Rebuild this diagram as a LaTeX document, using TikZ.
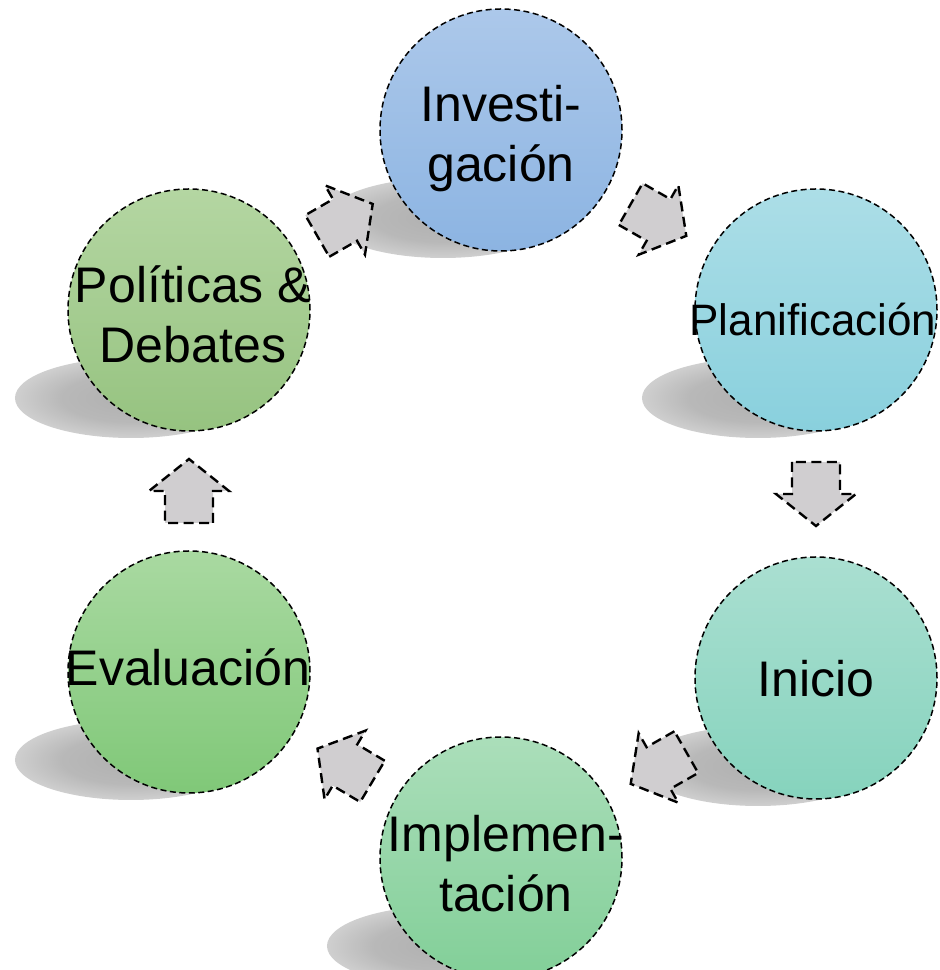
\documentclass[tikz,border=0pt]{standalone}
\usepackage{fontspec}
\setmainfont{Liberation Sans}
\usetikzlibrary{calc,fadings}
\pgfdeclareradialshading{shadowshade}{\pgfpointorigin}{gray(0bp)=(0.95); gray(15bp)=(0.85); gray(35bp)=(0.3); gray(50bp)=(0)}
\pgfdeclarefading{softshadow}{\pgfuseshading{shadowshade}}
\definecolor{invtop}{RGB}{172,200,234}
\definecolor{invbot}{RGB}{140,180,226}
\definecolor{plantop}{RGB}{172,222,231}
\definecolor{planbot}{RGB}{137,208,221}
\definecolor{initop}{RGB}{170,223,209}
\definecolor{inibot}{RGB}{134,211,189}
\definecolor{impltop}{RGB}{171,222,186}
\definecolor{implbot}{RGB}{130,207,152}
\definecolor{evaltop}{RGB}{169,217,161}
\definecolor{evalbot}{RGB}{128,200,120}
\definecolor{poltop}{RGB}{180,214,162}
\definecolor{polbot}{RGB}{150,195,128}
\definecolor{arrowgray}{RGB}{208,206,208}
\definecolor{shadowgray}{RGB}{172,172,172}
\newcommand\flowarrow[2]{%
  \pgfmathanglebetweenpoints{\pgfpointanchor{#1}{center}}{\pgfpointanchor{#2}{center}}%
  \let\arrowangle\pgfmathresult
  \draw[arrowbox, shift={($(#1)!0.5!(#2)$)}, rotate=\arrowangle]
    (-32,-24) -- (0,-24) -- (0,-40) -- (32,0) -- (0,40) -- (0,24) -- (-32,24) -- cycle;
}
\begin{document}
\begin{tikzpicture}[x=1pt,y=1pt,
  bubble/.style={circle, minimum size=242pt, inner sep=0pt, draw=black, line width=1.5pt, dash pattern=on 6pt off 3.5pt},
  bubbletext/.style={inner sep=0pt, align=center, font=\fontsize{50}{60}\selectfont, text=black},
  arrowbox/.style={fill=arrowgray, draw=black, line width=2.4pt, dash pattern=on 10pt off 5.5pt, line join=miter},
  shadowblob/.style={fill=shadowgray, path fading=softshadow}
]
\useasboundingbox (0,0) rectangle (940,970);
\clip (0,0) rectangle (940,970);
\coordinate (c-inv) at (501,840);
\coordinate (c-plan) at (816,660);
\coordinate (c-ini) at (816,292);
\coordinate (c-impl) at (501,112);
\coordinate (c-eval) at (189,298);
\coordinate (c-pol) at (189,660);
\foreach \c in {inv,plan,ini,impl,eval,pol}
  \fill[shadowblob] ($(c-\c)+(-58,-88)$) ellipse [x radius=116pt, y radius=40pt];
\node[bubble, top color=invtop, bottom color=invbot] (inv) at (c-inv) {};
\node[bubble, top color=plantop, bottom color=planbot] (plan) at (c-plan) {};
\node[bubble, top color=initop, bottom color=inibot] (ini) at (c-ini) {};
\node[bubble, top color=impltop, bottom color=implbot] (impl) at (c-impl) {};
\node[bubble, top color=evaltop, bottom color=evalbot] (eval) at (c-eval) {};
\node[bubble, top color=poltop, bottom color=polbot] (pol) at (c-pol) {};
\node[bubbletext] (inv-t) at ($(inv)+(0,-9)$) {Investi-\\gación};
\node[bubbletext, font=\fontsize{44}{53}\selectfont] (plan-t) at ($(plan)+(-3,-10)$) {Planificación};
\node[bubbletext] (ini-t) at ($(ini)+(0,-1)$) {Inicio};
\node[bubbletext] (impl-t) at ($(impl)+(5,-6)$) {Implemen-\\tación};
\node[bubbletext] (eval-t) at ($(eval)+(-1,5)$) {Evaluación};
\node[bubbletext] (pol-t) at ($(pol)+(4,-4)$) {Políticas \&\\Debates};
\flowarrow{pol}{inv}
\flowarrow{inv}{plan}
\flowarrow{plan}{ini}
\flowarrow{ini}{impl}
\flowarrow{impl}{eval}
\flowarrow{eval}{pol}
\end{tikzpicture}
\end{document}
